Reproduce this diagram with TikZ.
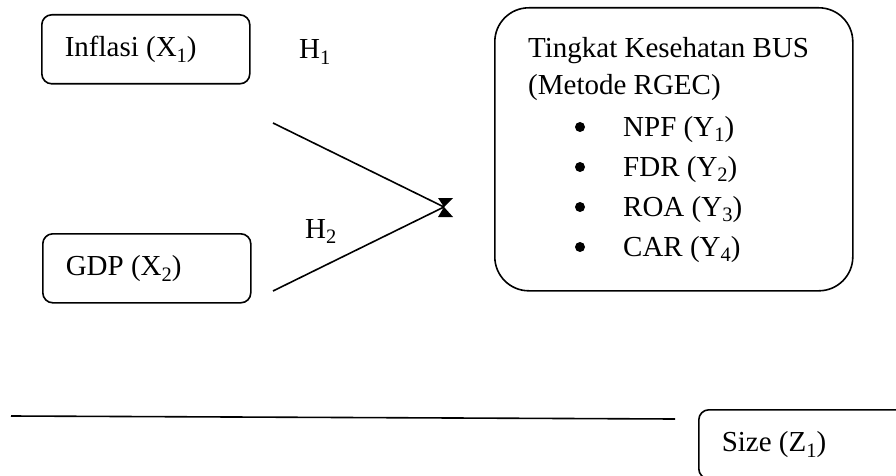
\documentclass[tikz,border=0pt]{standalone}
\usepackage{fontspec}
\setmainfont{Liberation Serif}
\newcommand\mysb[1]{\raisebox{-0.2em}{\fontsize{20.5}{20}\selectfont #1}}
\newcommand\boxtext[1]{\makebox[162pt][l]{#1}}
\begin{document}
\begin{tikzpicture}[x=1pt,y=-1pt,
  txt/.style={font=\fontsize{29}{34}\selectfont, inner sep=0pt, anchor=base west},
  dot/.style={circle, fill=black, inner sep=0pt, minimum size=10pt},
  smallbox/.style={draw, line width=1.6pt, rounded corners=10pt, minimum height=69pt,
    inner xsep=23pt, inner ysep=0pt, anchor=north west,
    font=\fontsize{29}{34}\selectfont},
  bigbox/.style={draw, line width=1.6pt, rounded corners=34pt, minimum width=358pt,
    minimum height=283pt, inner sep=0pt, anchor=north west},
  conn/.style={line width=1.6pt}]
\useasboundingbox (0,0) rectangle (896,476);
\clip (0,0) rectangle (896,476);
\fill[white] (0,0) rectangle (896,476);
% boxes
\node[smallbox] (infl) at (41,14) {\boxtext{Inflasi (X\mysb{1})}};
\node[smallbox] (gdp) at (42,233) {\boxtext{GDP (X\mysb{2})}};
\node[smallbox] (size) at (698,409) {\boxtext{Size (Z\mysb{1})}};
\node[bigbox] (tk) at (494,7) {};
% texts in big box
\node[txt] (t1) at (528,58) {Tingkat Kesehatan BUS};
\node[txt] (t2) at (528,95) {(Metode RGEC)};
\node[dot] (b1) at (580,127) {};
\node[dot] (b2) at (580,167) {};
\node[dot] (b3) at (580,207) {};
\node[dot] (b4) at (580,247) {};
\node[txt] (y1) at (623,136) {NPF (Y\mysb{1})};
\node[txt] (y2) at (623,176) {FDR (Y\mysb{2})};
\node[txt] (y3) at (623,216) {ROA (Y\mysb{3})};
\node[txt] (y4) at (623,256) {CAR (Y\mysb{4})};
% hypothesis labels
\node[txt] (h1) at (299,59) {H\mysb{1}};
\node[txt] (h2) at (305,238) {H\mysb{2}};
% connectors
\coordinate (s1) at (273,123);
\coordinate (s2) at (273,291);
\coordinate (m) at (444,207);
\draw[conn] (s1) -- (m);
\draw[conn] (s2) -- (m);
\fill (438,198) -- (453,198) -- (m) -- (453,217) -- (438,217) -- (m) -- cycle;
\coordinate (l1) at (11,416);
\coordinate (l2) at (675,419);
\draw[conn] (l1) -- (l2);
\end{tikzpicture}
\end{document}
